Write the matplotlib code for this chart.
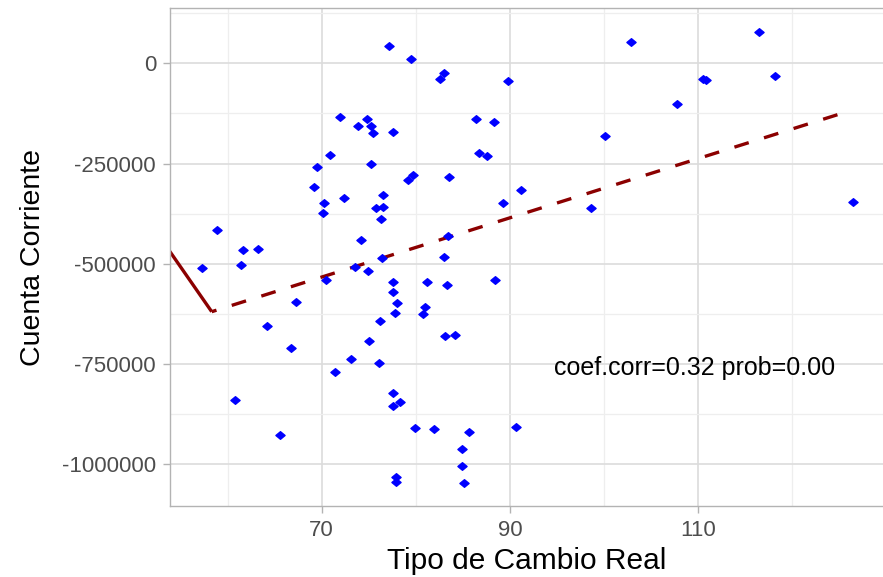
#!/usr/bin/env python3

import numpy as np
import matplotlib
matplotlib.use("Agg")
import matplotlib.pyplot as plt
from matplotlib.path import Path
from matplotlib.ticker import MultipleLocator

# Tipo de cambio real vs cuenta corriente
tcr = [77.12, 79.48, 71.98, 74.84, 73.89, 75.27, 75.42, 77.57, 70.88, 69.47,
       75.27, 79.73, 79.20, 69.18, 76.54, 70.28, 72.37, 75.77, 76.54, 70.11,
       76.27, 58.91, 61.67, 63.23, 74.17, 76.40, 57.29, 61.40, 73.57, 74.92,
       70.46, 67.27, 77.60, 77.54, 77.97, 77.75, 76.19, 64.22, 74.99, 66.71,
       73.08, 76.09, 71.44, 60.76, 77.54, 77.54, 78.32, 79.94, 65.60, 77.86,
       77.86, 102.82, 83.02, 82.57, 89.82, 86.42, 88.27, 100.06, 86.71, 87.53,
       83.49, 91.20, 89.22, 98.57, 83.45, 82.96, 81.22, 83.28, 88.44, 80.94,
       80.79, 83.06, 84.19, 81.90, 85.61, 90.67, 84.93, 84.90, 85.11, 116.45,
       110.55, 110.80, 118.15, 107.71, 126.46]
cuenta = [43000, 10000, -135000, -140000, -156000, -156000, -173000, -171000,
          -229000, -258000, -252000, -279000, -292000, -308000, -328000,
          -349000, -337000, -362000, -358000, -373000, -389000, -416000,
          -465000, -463000, -441000, -485000, -511000, -503000, -509000,
          -517000, -540000, -596000, -545000, -570000, -599000, -623000,
          -643000, -654000, -693000, -709000, -737000, -747000, -770000,
          -840000, -823000, -855000, -845000, -909000, -926000, -1031000,
          -1043000, 52000, -25000, -40000, -44000, -140000, -147000, -182000,
          -224000, -230000, -284000, -315000, -348000, -360000, -430000,
          -482000, -545000, -552000, -541000, -607000, -626000, -681000,
          -677000, -913000, -920000, -907000, -961000, -1004000, -1047000,
          78000, -38000, -42000, -32000, -101000, -345000]

# fitted line (dashed) and the solid lead-in segment
fit_x = [58.32, 125.26]
fit_y = [-619460, -124690]
lead_x = [50.0, 58.32]
lead_y = [-338400, -619460]

yticks = [0, -250000, -500000, -750000, -1000000]
xticks = [70, 90, 110]
annot = "coef.corr=0.32 prob=0.00"

FONT = ["Liberation Sans", "DejaVu Sans"]


def diamond():
    """Diamond a bit wider than tall, like the reference markers."""
    verts = [(-1, 0), (0, 0.83), (1, 0), (0, -0.83), (-1, 0)]
    codes = [Path.MOVETO, Path.LINETO, Path.LINETO, Path.LINETO, Path.CLOSEPOLY]
    return Path(verts, codes)


def main():
    plt.rcParams['font.family'] = FONT

    fig = plt.figure(figsize=(8.83, 5.77), dpi=100)
    ax = fig.add_axes([170 / 883, 1 - 505.7 / 577, 713 / 883, 497.4 / 577])

    ax.set_xlim(53.89, 129.62)
    ax.set_ylim(-1103280, 137160)

    # grid
    ax.set_xticks(xticks)
    ax.set_yticks(yticks)
    ax.set_yticklabels([str(v) for v in yticks])
    ax.xaxis.set_minor_locator(MultipleLocator(10))
    ax.yaxis.set_minor_locator(MultipleLocator(125000))
    ax.grid(True, which='major', color='#DCDCDC', lw=1.2)
    ax.grid(True, which='minor', color='#EEEEEE', lw=0.9)
    ax.set_axisbelow(True)

    for side in ['left', 'bottom', 'top']:
        ax.spines[side].set_color('#B3B3B3')
        ax.spines[side].set_linewidth(1.0)
    ax.spines['right'].set_visible(False)

    ax.tick_params(which='major', length=5, width=1.0, color='#B3B3B3',
                   labelcolor='#4D4D4D', labelsize=16, pad=5)
    ax.tick_params(which='minor', length=0)

    # data
    ax.plot(tcr, cuenta, linestyle='none', marker=diamond(), markersize=6.6,
            color='#0000FF', zorder=3)
    ax.plot(lead_x, lead_y, color='#8B0000', lw=2.4, solid_capstyle='butt',
            zorder=2)
    ax.plot(fit_x, fit_y, color='#8B0000', lw=2.4,
            linestyle=(3.0, (4.5, 4.8)), dash_capstyle='butt', zorder=2)

    ax.text(109.65, -777300, annot, ha='center', va='baseline',
            fontsize=18, color='black')

    ax.set_xlabel('Tipo de Cambio Real', fontsize=21.5, color='black')
    ax.set_ylabel('Cuenta Corriente', fontsize=20.5, color='black')
    ax.xaxis.label.set_va('center')
    ax.yaxis.label.set_va('center')
    ax.xaxis.set_label_coords(0.5, (505.7 - 561) / 497.4)
    ax.yaxis.set_label_coords((33 - 170) / 713, 0.5)

    fig.savefig('out.png', dpi=100)
    plt.close(fig)


if __name__ == "__main__":
    main()
